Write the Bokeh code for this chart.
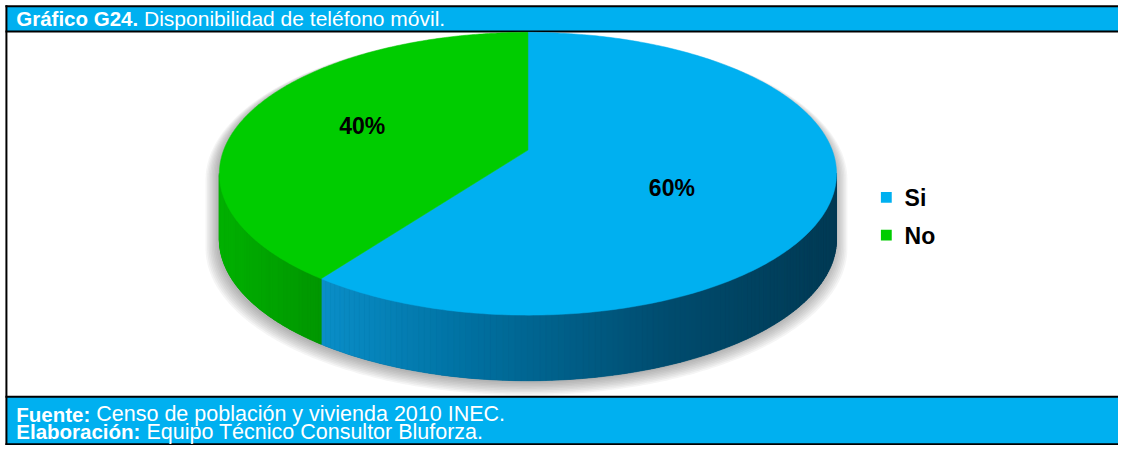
import numpy as np
from bokeh.plotting import figure
from bokeh.models import Range1d
from bokeh.core.properties import value
from bokeh.embed import file_html
from bokeh.resources import INLINE

# ---------------- data ----------------
categories = ["Si", "No"]
values = [60, 40]
slice_colors = ["#00B0F0", "#00CC00"]
title_bold = "Gráfico G24."
title_rest = "Disponibilidad de teléfono móvil."
source_bold = "Fuente:"
source_rest = "Censo de población y vivienda 2010 INEC."
credit_bold = "Elaboración:"
credit_rest = "Equipo Técnico Consultor Bluforza."

# ---------------- layout / style ----------------
W, H = 1118, 445
X0, X1, Y0, Y1 = 0, 1134, 0, 461
SX = W / (X1 - X0)
BAND = "#00B0F0"
FONT = "Liberation Sans"
FS_BOLD = 20.5

p = figure(width=W, height=H, x_range=Range1d(X0, X1), y_range=Range1d(Y1, Y0),
           output_backend="svg", toolbar_location=None, min_border=0,
           x_axis_location=None, y_axis_location=None)
p.grid.visible = False
p.outline_line_color = None
p.background_fill_color = "white"
p.border_fill_color = "white"

# header & footer bands
p.quad(left=[6], right=[1134], top=[6.5], bottom=[31.5], fill_color=BAND, line_color=None)
p.quad(left=[6], right=[1134], top=[410.5], bottom=[459.5], fill_color=BAND, line_color=None)
p.segment(x0=[5, 5, 5, 5], y0=[6, 32, 410.5, 459.8], x1=[1134, 1134, 1134, 1134],
          y1=[6, 32, 410.5, 459.8], line_color="black", line_width=2)
p.segment(x0=[6], y0=[5], x1=[6], y1=[461], line_color="black", line_width=2)

# ---------------- pie geometry (perspective ellipse) ----------------
cx, yv = 535.0, 155.0
Sx, Sy, e = 308.6, 142.4, 0.167
depth = 68.0


def proj(t_deg, r=1.0):
    t = np.radians(t_deg)
    u = r * np.sin(t)
    v = r * np.cos(t)
    d = 1 + e * v
    return cx + Sx * u / d, yv - Sy * v / d


total = float(sum(values))
ends = np.cumsum(values) / total * 360.0
starts = np.concatenate([[0.0], ends[:-1]])

t_right = np.degrees(np.arccos(-e))
t_left = 360.0 - t_right

# soft shadow
for k in range(9):
    xb, yb = proj(np.linspace(t_left - 360, t_right, 200))
    xf, yf = proj(np.linspace(t_right, t_left, 200))
    xs = np.concatenate([xb, xf])
    ys = np.concatenate([yb, yf + depth])
    grow = 1 + 0.005 * k
    xs = cx + (xs - cx) * grow - 1.5
    ys = 210 + (ys - 210) * grow + 2.0 + 0.7 * k
    p.patch(xs, ys, fill_color="#505050", fill_alpha=0.055, line_color=None)


def lerp_color(x, stops):
    xs_ = [s[0] for s in stops]
    r = np.interp(x, xs_, [s[1][0] for s in stops])
    g = np.interp(x, xs_, [s[1][1] for s in stops])
    b = np.interp(x, xs_, [s[1][2] for s in stops])
    return "#%02x%02x%02x" % (int(r), int(g), int(b))


side_stops = [
    [(328, (10, 142, 200)), (480, (0, 112, 160)), (680, (0, 76, 110)), (845, (0, 58, 84))],
    [(222, (0, 178, 0)), (328, (0, 150, 0))],
]

# sides with gradient strips
for i in range(len(values)):
    a = max(starts[i], t_right)
    b = min(ends[i], t_left)
    if b <= a:
        continue
    n = 120
    ts = np.linspace(a, b, n + 1)
    xx, yy = proj(ts)
    p.patch(np.concatenate([xx, xx[::-1]]), np.concatenate([yy, yy[::-1] + depth]),
            fill_color=lerp_color(xx.mean(), side_stops[i]), line_color=None)
    sx, sy, cols = [], [], []
    for j in range(n):
        x_a, x_b = xx[j], xx[j + 1]
        y_a, y_b = yy[j], yy[j + 1]
        sx.append([x_a, x_b, x_b, x_a])
        sy.append([y_a - 0.5, y_b - 0.5, y_b + depth, y_a + depth])
        cols.append(lerp_color((x_a + x_b) / 2, side_stops[i]))
    p.patches(sx, sy, fill_color=cols, line_color=cols, line_width=0.6)

# top faces
for i in range(len(values)):
    xx, yy = proj(np.linspace(starts[i], ends[i], 300))
    p.patch(np.concatenate([[cx], xx]), np.concatenate([[yv], yy]),
            fill_color=slice_colors[i], line_color=slice_colors[i], line_width=0.5)

# data labels
label_r = [0.485, 0.59]
label_dy = [17.0, 0.0]
lx, ly, lt = [], [], []
for i in range(len(values)):
    mid = (starts[i] + ends[i]) / 2
    x_, y_ = proj(mid, label_r[i])
    lx.append(float(x_))
    ly.append(float(y_) + label_dy[i])
    lt.append(f"{values[i]}%")
p.text(x=lx, y=ly, text=lt, text_align="center", text_baseline="middle",
       text_font=value(FONT), text_font_style="bold", text_font_size="23px", text_color="black")

# legend
leg_y = [204, 243]
p.rect(x=[898.5] * len(categories), y=leg_y, width=11, height=11,
       fill_color=slice_colors, line_color=None)
p.text(x=[917] * len(categories), y=[y + 1 for y in leg_y], text=categories,
       text_align="left", text_baseline="middle", text_font=value(FONT),
       text_font_style="bold", text_font_size="23px", text_color="black")

# header/footer texts (regular part placed right after the bold part)
BOLD_EM = {"Gráfico G24.": 5.947, "Fuente:": 3.611, "Elaboración:": 6.057}
SPACE_EM = 0.278
x_bold = 16
rows_bold = [title_bold, source_bold, credit_bold]
rows_rest = [title_rest, source_rest, credit_rest]
rows_y = [18.8, 428.5, 446.5]
rest_fs = [21.0, 21.5, 21.5]


def after(label, x0, fs_rest):
    return x0 + (BOLD_EM[label] * FS_BOLD + SPACE_EM * fs_rest) / SX


p.text(x=[x_bold] * 3, y=rows_y, text=rows_bold,
       text_font=value(FONT), text_font_style="bold", text_font_size=f"{FS_BOLD}px",
       text_color="white", text_baseline="middle")
for i in range(3):
    p.text(x=[after(rows_bold[i], x_bold, rest_fs[i])], y=[rows_y[i]], text=[rows_rest[i]],
           text_font=value(FONT), text_font_size=f"{rest_fs[i]}px", text_color="white",
           text_baseline="middle")

open("out.html", "w").write(file_html(p, INLINE))
